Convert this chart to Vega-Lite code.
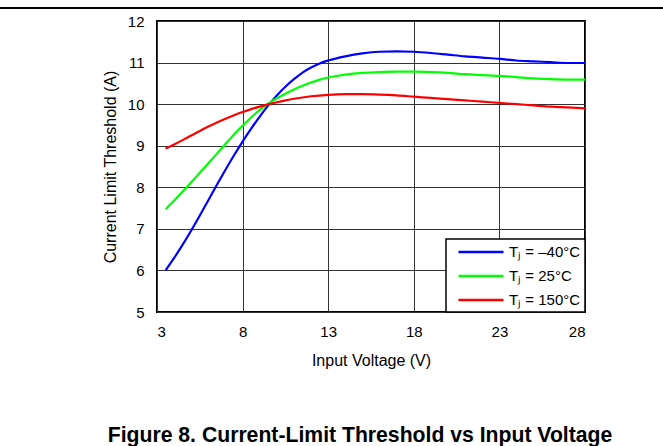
{
  "$schema": "https://vega.github.io/schema/vega-lite/v6.json",
  "width": 428,
  "height": 291,
  "autosize": {"type": "none"},
  "padding": {"left": 157, "top": 21, "right": 78, "bottom": 134},
  "background": "white",
  "config": {
    "font": "Liberation Sans",
    "view": {"stroke": "black", "strokeWidth": 2},
    "axis": {
      "grid": true, "gridColor": "#333", "gridWidth": 1, "gridOpacity": 1,
      "ticks": false, "domain": false,
      "labelFont": "Liberation Sans", "labelFontSize": 15, "labelColor": "black",
      "titleFont": "Liberation Sans", "titleFontSize": 16, "titleFontWeight": "normal", "titleColor": "black"
    },
    "legend": {"labelFont": "Liberation Sans", "labelFontSize": 15, "labelColor": "black"}
  },
  "title": {
    "text": "Figure 8. Current-Limit Threshold vs Input Voltage",
    "orient": "bottom",
    "anchor": "middle",
    "font": "Liberation Sans",
    "fontSize": 21.2,
    "fontWeight": "bold",
    "color": "black",
    "offset": 57,
    "dx": -11
  },
  "data": {"values": [
    {"v":3.5,"i":6.0,"tj":"–40°C"},{"v":4,"i":6.3,"tj":"–40°C"},{"v":4.5,"i":6.62,"tj":"–40°C"},{"v":5,"i":6.96,"tj":"–40°C"},{"v":5.5,"i":7.32,"tj":"–40°C"},{"v":6,"i":7.69,"tj":"–40°C"},{"v":6.5,"i":8.06,"tj":"–40°C"},{"v":7,"i":8.42,"tj":"–40°C"},{"v":7.5,"i":8.77,"tj":"–40°C"},{"v":8,"i":9.1,"tj":"–40°C"},{"v":8.5,"i":9.41,"tj":"–40°C"},{"v":9,"i":9.7,"tj":"–40°C"},{"v":9.5,"i":9.97,"tj":"–40°C"},{"v":10,"i":10.21,"tj":"–40°C"},{"v":10.5,"i":10.42,"tj":"–40°C"},{"v":11,"i":10.6,"tj":"–40°C"},{"v":11.5,"i":10.76,"tj":"–40°C"},{"v":12,"i":10.88,"tj":"–40°C"},{"v":12.5,"i":10.98,"tj":"–40°C"},{"v":13,"i":11.05,"tj":"–40°C"},{"v":14,"i":11.15,"tj":"–40°C"},{"v":15,"i":11.22,"tj":"–40°C"},{"v":16,"i":11.26,"tj":"–40°C"},{"v":17,"i":11.27,"tj":"–40°C"},{"v":18,"i":11.26,"tj":"–40°C"},{"v":19,"i":11.23,"tj":"–40°C"},{"v":20,"i":11.19,"tj":"–40°C"},{"v":21,"i":11.15,"tj":"–40°C"},{"v":22,"i":11.12,"tj":"–40°C"},{"v":23,"i":11.09,"tj":"–40°C"},{"v":24,"i":11.05,"tj":"–40°C"},{"v":25,"i":11.03,"tj":"–40°C"},{"v":26,"i":11.01,"tj":"–40°C"},{"v":27,"i":10.99,"tj":"–40°C"},{"v":28,"i":10.99,"tj":"–40°C"},
    {"v":3.5,"i":7.47,"tj":"25°C"},{"v":4,"i":7.68,"tj":"25°C"},{"v":4.5,"i":7.9,"tj":"25°C"},{"v":5,"i":8.12,"tj":"25°C"},{"v":5.5,"i":8.35,"tj":"25°C"},{"v":6,"i":8.58,"tj":"25°C"},{"v":6.5,"i":8.81,"tj":"25°C"},{"v":7,"i":9.04,"tj":"25°C"},{"v":7.5,"i":9.27,"tj":"25°C"},{"v":8,"i":9.48,"tj":"25°C"},{"v":8.5,"i":9.68,"tj":"25°C"},{"v":9,"i":9.86,"tj":"25°C"},{"v":9.5,"i":10.01,"tj":"25°C"},{"v":10,"i":10.14,"tj":"25°C"},{"v":10.5,"i":10.25,"tj":"25°C"},{"v":11,"i":10.35,"tj":"25°C"},{"v":11.5,"i":10.44,"tj":"25°C"},{"v":12,"i":10.52,"tj":"25°C"},{"v":12.5,"i":10.59,"tj":"25°C"},{"v":13,"i":10.64,"tj":"25°C"},{"v":14,"i":10.71,"tj":"25°C"},{"v":15,"i":10.75,"tj":"25°C"},{"v":16,"i":10.77,"tj":"25°C"},{"v":17,"i":10.78,"tj":"25°C"},{"v":18,"i":10.78,"tj":"25°C"},{"v":19,"i":10.77,"tj":"25°C"},{"v":20,"i":10.75,"tj":"25°C"},{"v":21,"i":10.72,"tj":"25°C"},{"v":22,"i":10.7,"tj":"25°C"},{"v":23,"i":10.68,"tj":"25°C"},{"v":24,"i":10.65,"tj":"25°C"},{"v":25,"i":10.62,"tj":"25°C"},{"v":26,"i":10.6,"tj":"25°C"},{"v":27,"i":10.59,"tj":"25°C"},{"v":28,"i":10.59,"tj":"25°C"},
    {"v":3.5,"i":8.93,"tj":"150°C"},{"v":4,"i":9.03,"tj":"150°C"},{"v":4.5,"i":9.135,"tj":"150°C"},{"v":5,"i":9.245,"tj":"150°C"},{"v":5.5,"i":9.355,"tj":"150°C"},{"v":6,"i":9.46,"tj":"150°C"},{"v":6.5,"i":9.56,"tj":"150°C"},{"v":7,"i":9.65,"tj":"150°C"},{"v":7.5,"i":9.735,"tj":"150°C"},{"v":8,"i":9.81,"tj":"150°C"},{"v":8.5,"i":9.88,"tj":"150°C"},{"v":9,"i":9.94,"tj":"150°C"},{"v":9.5,"i":9.995,"tj":"150°C"},{"v":10,"i":10.045,"tj":"150°C"},{"v":10.5,"i":10.09,"tj":"150°C"},{"v":11,"i":10.13,"tj":"150°C"},{"v":12,"i":10.19,"tj":"150°C"},{"v":13,"i":10.225,"tj":"150°C"},{"v":14,"i":10.24,"tj":"150°C"},{"v":15,"i":10.24,"tj":"150°C"},{"v":16,"i":10.23,"tj":"150°C"},{"v":17,"i":10.21,"tj":"150°C"},{"v":18,"i":10.18,"tj":"150°C"},{"v":19,"i":10.15,"tj":"150°C"},{"v":20,"i":10.12,"tj":"150°C"},{"v":21,"i":10.09,"tj":"150°C"},{"v":22,"i":10.06,"tj":"150°C"},{"v":23,"i":10.03,"tj":"150°C"},{"v":24,"i":10.0,"tj":"150°C"},{"v":25,"i":9.97,"tj":"150°C"},{"v":26,"i":9.94,"tj":"150°C"},{"v":27,"i":9.92,"tj":"150°C"},{"v":28,"i":9.9,"tj":"150°C"}
  ]},
  "layer": [
    {
      "mark": {"type": "line", "interpolate": "monotone", "strokeWidth": 2.2},
      "encoding": {
        "x": {"field": "v", "type": "quantitative", "scale": {"domain": [3, 28], "nice": false, "zero": false},
              "axis": {"values": [3, 8, 13, 18, 23, 28], "title": "Input Voltage (V)", "labelPadding": 12, "titlePadding": 13}},
        "y": {"field": "i", "type": "quantitative", "scale": {"domain": [5, 12], "nice": false, "zero": false},
              "axis": {"values": [5, 6, 7, 8, 9, 10, 11, 12], "title": "Current Limit Threshold (A)", "labelPadding": 13, "titlePadding": 9}},
        "color": {"field": "tj", "type": "nominal",
                  "scale": {"domain": ["–40°C", "25°C", "150°C"], "range": ["#0000ff", "#00ff00", "#ff0000"]},
                  "legend": {"title": null, "orient": "bottom-right", "offset": 0,
                             "symbolType": "M-0.067,0H5.933", "symbolSize": 225, "symbolStrokeWidth": 2.5,
                             "labelExpr": "'Tⱼ = ' + datum.label + '\u00a0\u00a0'", "labelOffset": 41, "padding": 4, "rowPadding": 7,
                             "fillColor": "white", "strokeColor": "black",
                             "encode": {"legend": {"update": {"strokeWidth": {"value": 1.5}}}}}}
      }
    },
    {
      "mark": {"type": "rule", "color": "black", "strokeWidth": 1.2, "clip": false},
      "encoding": {
        "y": {"datum": 12.31},
        "x": {"datum": -6.17},
        "x2": {"datum": 32.6}
      }
    }
  ]
}
